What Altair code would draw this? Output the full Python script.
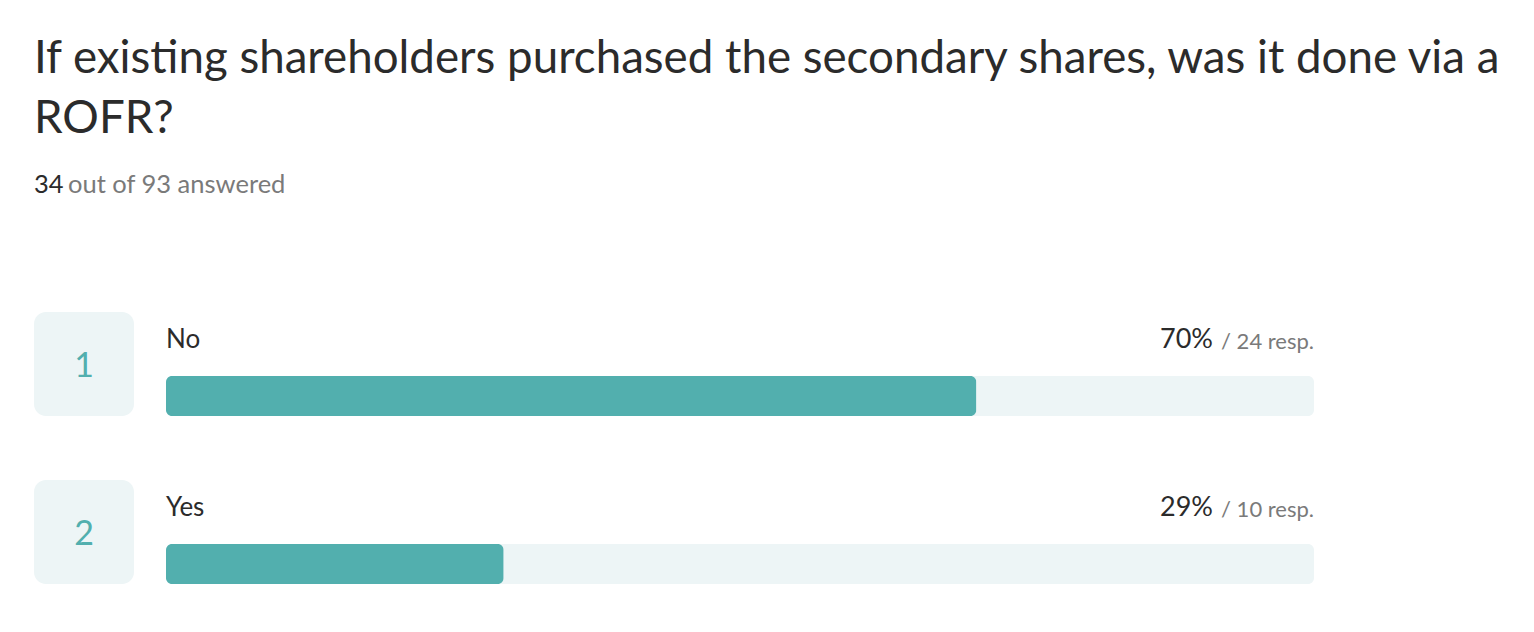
import altair as alt
import pandas as pd

TITLE_LINES = ["If existing shareholders purchased the secondary shares, was it done via a", "ROFR?"]
ANSWERED = 34
TOTAL = 93
RANKS = [1, 2]
LABELS = ["No", "Yes"]
PCTS = [70, 29]
RESPS = [24, 10]

FONT = "Lato"
TEAL = "#52afae"
LIGHT = "#edf5f6"
DARK = "#2b2b2b"
GRAY = "#7a7a7a"

df = pd.DataFrame({"rank": RANKS, "label": LABELS, "pct": PCTS, "resp": RESPS})
df["share"] = df["resp"] / ANSWERED
df["full"] = 1.0
df["pct_txt"] = df["pct"].astype(str) + "%"
df["resp_txt"] = "/ " + df["resp"].astype(str) + " resp."
df["rank_txt"] = df["rank"].astype(str)

xs = alt.Scale(domain=[0, 1], range=[158, 1306])
ys = alt.Scale(type="point", domain=LABELS, range=[388, 556], padding=0)
Y = alt.Y("label:N", scale=ys, axis=None)

base = alt.Chart(df)

box = base.mark_bar(height=104, yOffset=-32, cornerRadius=12, color=LIGHT).encode(
    x=alt.value(26), x2=alt.value(126), y=Y)
track = base.mark_bar(height=40, cornerRadius=6, color=LIGHT).encode(
    x=alt.X("full:Q", scale=xs, axis=None), y=Y)
bar = base.mark_bar(height=40, cornerRadius=6, color=TEAL).encode(
    x=alt.X("share:Q", scale=xs, axis=None), y=Y)
num = base.mark_text(font=FONT, fontSize=34, color=TEAL, align="center", baseline="alphabetic", yOffset=-19).encode(
    x=alt.value(76), y=Y, text="rank_txt:N")
lab = base.mark_text(font=FONT, fontSize=26, color=DARK, align="left", baseline="alphabetic", yOffset=-48).encode(
    x=alt.value(158), y=Y, text="label:N")
pct = base.mark_text(font=FONT, fontSize=27, color=DARK, align="right", baseline="alphabetic", yOffset=-48).encode(
    x=alt.value(1205), y=Y, text="pct_txt:N")
resp = base.mark_text(font=FONT, fontSize=22, color=GRAY, align="right", baseline="alphabetic", yOffset=-47).encode(
    x=alt.value(1306), y=Y, text="resp_txt:N")

tdf = pd.DataFrame({"a": [0]})
title = alt.Chart(tdf).mark_text(font=FONT, fontSize=45.7, color=DARK, align="left", baseline="alphabetic", lineHeight=60).encode(
    x=alt.value(26), y=alt.value(65), text=alt.value(TITLE_LINES))
sub1 = alt.Chart(tdf).mark_text(font=FONT, fontSize=25.5, color=DARK, align="left", baseline="alphabetic").encode(
    x=alt.value(26), y=alt.value(185), text=alt.value(str(ANSWERED)))
sub2 = alt.Chart(tdf).mark_text(font=FONT, fontSize=25.5, color=GRAY, align="left", baseline="alphabetic").encode(
    x=alt.value(60), y=alt.value(185), text=alt.value(f"out of {TOTAL} answered"))

chart = alt.layer(box, track, bar, num, lab, pct, resp, title, sub1, sub2).properties(
    width=1518, height=616, padding=0, autosize=alt.AutoSizeParams(type="none"),
    background="white"
).configure_view(stroke=None)

chart.save("out.html", embed_options={"renderer": "svg", "actions": False})
